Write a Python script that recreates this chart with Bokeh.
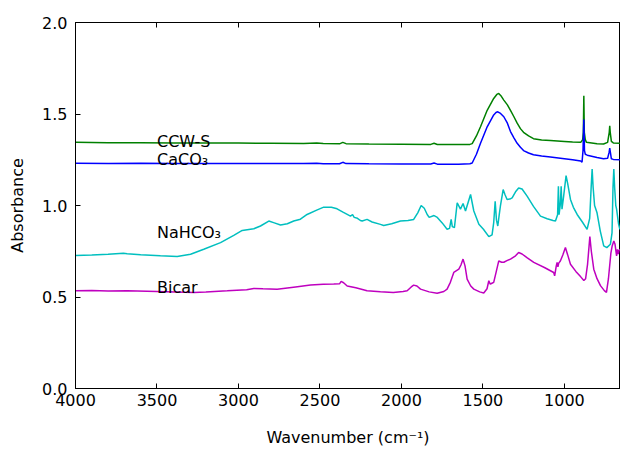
from bokeh.plotting import figure
from bokeh.models import Range1d, FixedTicker, PrintfTickFormatter, LinearAxis, CustomJSTickFormatter
from bokeh.core.properties import value
from bokeh.embed import file_html
from bokeh.resources import INLINE

# ---------------- data ----------------
ccw_wn = [4000, 3800, 3600, 3400, 3200, 3000, 2800, 2600, 2520, 2480, 2380, 2360, 2340,
          2200, 2000, 1820, 1800, 1780, 1650, 1580, 1566, 1540, 1515, 1474, 1434, 1415,
          1403, 1390, 1372, 1350, 1331, 1310, 1290, 1270, 1251, 1220, 1190, 1140, 1086,
          1000, 950, 900, 888, 884, 881, 878, 872, 865, 800, 760, 735, 725, 722, 719,
          712, 700, 656]
ccw_abs = [1.345, 1.343, 1.343, 1.342, 1.341, 1.341, 1.340, 1.339, 1.341, 1.339, 1.337, 1.345, 1.338,
           1.336, 1.335, 1.334, 1.340, 1.333, 1.333, 1.334, 1.338, 1.380, 1.430, 1.520, 1.585, 1.607,
           1.612, 1.600, 1.576, 1.550, 1.520, 1.485, 1.450, 1.420, 1.400, 1.380, 1.365, 1.358, 1.355,
           1.350, 1.347, 1.345, 1.360, 1.400, 1.600, 1.400, 1.360, 1.345, 1.338, 1.336, 1.345, 1.400, 1.435, 1.400,
           1.350, 1.342, 1.340]

caco3_wn = [4000, 3800, 3600, 3400, 3200, 3000, 2800, 2600, 2520, 2480, 2380, 2360, 2340,
            2200, 2000, 1820, 1800, 1780, 1650, 1580, 1566, 1540, 1515, 1474, 1434, 1420,
            1409, 1395, 1372, 1350, 1331, 1310, 1290, 1270, 1251, 1220, 1190, 1140, 1086,
            1000, 950, 900, 892, 886, 881, 877, 872, 860, 800, 760, 735, 726, 722, 718,
            712, 700, 656]
caco3_abs = [1.231, 1.230, 1.231, 1.229, 1.230, 1.230, 1.229, 1.229, 1.231, 1.228, 1.228, 1.236, 1.229,
             1.228, 1.227, 1.227, 1.232, 1.226, 1.226, 1.228, 1.232, 1.280, 1.340, 1.430, 1.495, 1.508,
             1.512, 1.505, 1.485, 1.450, 1.404, 1.370, 1.340, 1.318, 1.300, 1.287, 1.277, 1.270, 1.265,
             1.256, 1.250, 1.243, 1.236, 1.300, 1.470, 1.300, 1.280, 1.275, 1.262, 1.256, 1.258, 1.290, 1.313, 1.290,
             1.255, 1.252, 1.250]

nahco3_wn = [4000, 3900, 3800, 3706, 3683, 3600, 3479, 3376, 3294, 3213, 3110, 3029, 2977,
             2906, 2865, 2814, 2780, 2742, 2700, 2661, 2620, 2579, 2520, 2477, 2430, 2395,
             2356, 2330, 2313, 2300, 2290, 2270, 2252, 2241, 2211, 2180, 2129, 2109, 2060,
             2006, 1960, 1925, 1900, 1879, 1860, 1842, 1830, 1800, 1780, 1750, 1720, 1705,
             1695, 1688, 1675, 1658, 1638, 1622, 1607, 1576, 1556, 1525, 1497, 1464, 1444,
             1434, 1425, 1417, 1409, 1400, 1393, 1376, 1365, 1352, 1335, 1321, 1300, 1281,
             1260, 1229, 1190, 1147, 1106, 1070, 1055, 1042, 1037, 1033, 1026, 1020, 1015,
             1005, 990, 980, 963, 945, 922, 890, 861, 845, 836, 830, 824, 815, 800, 780,
             759, 740, 718, 708, 702, 697, 692, 685, 680, 668, 660, 656]
nahco3_abs = [0.727, 0.729, 0.733, 0.739, 0.737, 0.731, 0.725, 0.721, 0.734, 0.761, 0.797, 0.837, 0.864,
              0.873, 0.888, 0.915, 0.905, 0.893, 0.900, 0.915, 0.925, 0.951, 0.975, 0.991, 0.990, 0.982,
              0.962, 0.950, 0.942, 0.950, 0.935, 0.930, 0.918, 0.915, 0.924, 0.910, 0.897, 0.891, 0.900,
              0.915, 0.918, 0.924, 0.960, 1.000, 0.985, 0.951, 0.935, 0.945, 0.935, 0.905, 0.870, 0.875,
              0.924, 0.885, 0.879, 1.015, 0.980, 1.011, 0.970, 1.060, 0.970, 0.897, 0.870, 0.830, 0.840,
              0.906, 1.023, 0.920, 0.888, 0.950, 0.996, 1.087, 1.060, 1.033, 1.035, 1.042, 1.075, 1.096,
              1.090, 1.051, 0.995, 0.942, 0.928, 0.918, 0.915, 0.950, 1.105, 0.950, 1.000, 1.105, 0.980,
              1.050, 1.163, 1.120, 1.033, 0.990, 0.951, 0.910, 0.870, 0.930, 1.100, 1.199, 1.100, 1.000, 0.960, 0.860,
              0.779, 0.770, 0.788, 0.850, 1.100, 1.199, 1.100, 1.000, 0.980, 0.900, 0.870, 0.880]

bicar_wn = [4000, 3900, 3800, 3683, 3500, 3274, 3200, 3069, 2950, 2906, 2850, 2763, 2650,
            2558, 2480, 2415, 2380, 2370, 2355, 2333, 2280, 2211, 2129, 2050, 1990, 1965,
            1940, 1925, 1905, 1883, 1830, 1781, 1740, 1720, 1700, 1679, 1660, 1648, 1635,
            1622, 1610, 1597, 1575, 1556, 1520, 1495, 1475, 1464, 1455, 1445, 1434, 1418,
            1403, 1385, 1372, 1350, 1331, 1300, 1281, 1260, 1230, 1188, 1120, 1066, 1060,
            1050, 1045, 1040, 1035, 1025, 1010, 994, 980, 963, 930, 900, 881, 870, 858,
            844, 835, 820, 800, 779, 755, 742, 730, 715, 707, 697, 690, 680, 675, 670,
            665, 656]
bicar_abs = [0.534, 0.536, 0.533, 0.534, 0.530, 0.525, 0.528, 0.534, 0.540, 0.547, 0.545, 0.543, 0.555,
             0.565, 0.570, 0.571, 0.572, 0.585, 0.578, 0.560, 0.550, 0.534, 0.529, 0.525, 0.530, 0.534,
             0.555, 0.565, 0.560, 0.543, 0.528, 0.520, 0.530, 0.543, 0.580, 0.634, 0.645, 0.652, 0.675,
             0.707, 0.670, 0.598, 0.560, 0.543, 0.528, 0.522, 0.545, 0.589, 0.570, 0.575, 0.580, 0.640,
             0.697, 0.690, 0.690, 0.700, 0.707, 0.725, 0.743, 0.735, 0.715, 0.689, 0.660, 0.634, 0.616,
             0.670, 0.689, 0.665, 0.685, 0.697, 0.730, 0.770, 0.730, 0.679, 0.640, 0.610, 0.590, 0.600, 0.680,
             0.830, 0.750, 0.652, 0.600, 0.562, 0.535, 0.525, 0.600, 0.740, 0.779, 0.806, 0.790, 0.725, 0.760, 0.735,
             0.755, 0.761]

series_names = ["CCW-S", "CaCO₃", "NaHCO₃", "Bicar"]
x_ticks = [4000, 3500, 3000, 2500, 2000, 1500, 1000]
y_ticks = [0.0, 0.5, 1.0, 1.5, 2.0]

# ---------------- styling / layout ----------------
FONT = "DejaVu Sans"
colors = ["#008000", "#0000ff", "#00bfbf", "#bf00bf"]
label_x = [3500, 3500, 3500, 3500]
label_y = [1.35, 1.25, 0.85, 0.55]

p = figure(width=620, height=449,
           x_range=Range1d(4000, 656), y_range=Range1d(0, 2.0),
           output_backend="svg", toolbar_location=None,
           min_border_left=75, min_border_right=0, min_border_top=22, min_border_bottom=59)
p.background_fill_color = "white"
p.border_fill_color = "white"
p.outline_line_color = "black"
p.outline_line_width = 1
p.xgrid.visible = False
p.ygrid.visible = False

for wn, ab, c in zip([ccw_wn, caco3_wn, nahco3_wn, bicar_wn],
                     [ccw_abs, caco3_abs, nahco3_abs, bicar_abs], colors):
    p.line(wn, ab, line_color=c, line_width=1.5)

p.text(x=label_x, y=label_y, text=series_names,
       text_font=value(FONT), text_font_size="16px", text_color="black",
       text_align="left", text_baseline="alphabetic")

xa = p.xaxis[0]
xa.ticker = FixedTicker(ticks=x_ticks)
xa.formatter = PrintfTickFormatter(format="%d")
xa.axis_label = "Wavenumber (cm⁻¹)"
ya = p.yaxis[0]
ya.ticker = FixedTicker(ticks=y_ticks)
ya.formatter = PrintfTickFormatter(format="%.1f")
ya.axis_label = "Absorbance"

for ax in (xa, ya):
    ax.major_tick_in = 5
    ax.major_tick_out = 0
    ax.minor_tick_line_color = None
    ax.axis_line_color = "black"
    ax.major_tick_line_color = "black"
    ax.major_label_text_font = FONT
    ax.major_label_text_font_size = "16px"
    ax.major_label_text_color = "black"
    ax.axis_label_text_font = FONT
    ax.axis_label_text_font_size = "16px"
    ax.axis_label_text_font_style = "normal"
    ax.axis_label_text_color = "black"

xa.major_label_standoff = 5
xa.axis_label_standoff = 19
ya.major_label_standoff = 8
ya.axis_label_standoff = 12

top = LinearAxis(ticker=FixedTicker(ticks=x_ticks),
                 formatter=CustomJSTickFormatter(code="return ''"),
                 major_tick_in=5, major_tick_out=0, minor_tick_line_color=None,
                 axis_line_color="black", major_tick_line_color="black",
                 major_label_standoff=0)
p.add_layout(top, "above")

open("out.html", "w").write(file_html(p, INLINE))
